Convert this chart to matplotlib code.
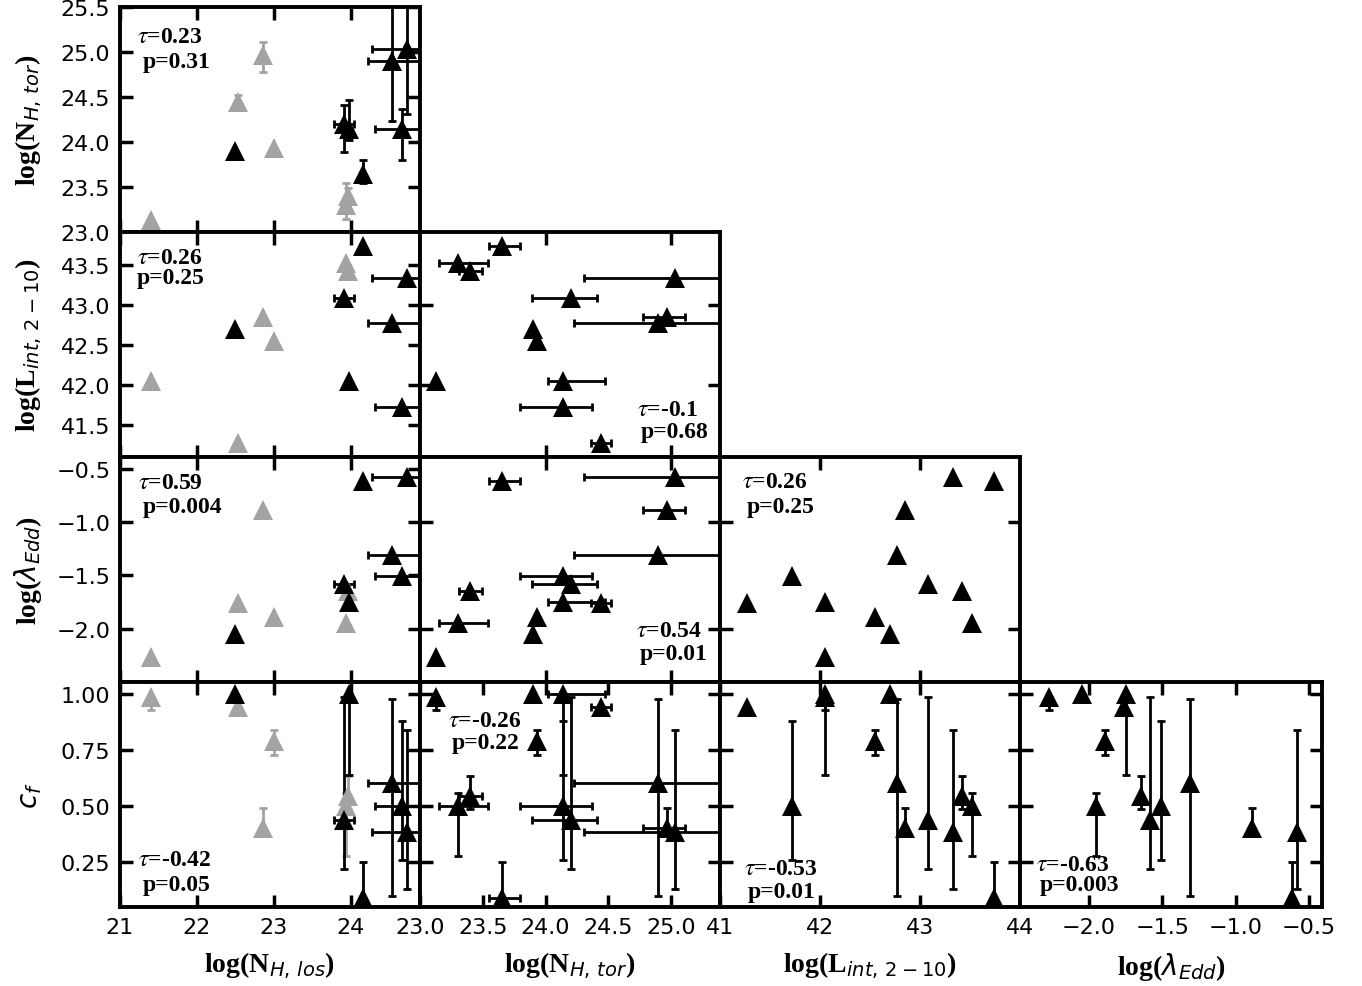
import matplotlib
matplotlib.use("Agg")
import matplotlib.pyplot as plt
import numpy as np

# 13 sources; the first six are drawn grey in the N_H,los column
grey_los = np.array([True] * 6 + [False] * 7)

nh_los = np.array([21.40, 22.53, 22.86, 23.00, 23.94, 23.97,
                   22.50, 23.91, 23.98, 24.16, 24.53, 24.73, 24.66])
nh_los_lo = np.array([0, 0, 0, 0, 0, 0, 0, 0.13, 0, 0, 0.31, 0.46, 0.34])
nh_los_hi = np.array([0, 0, 0, 0, 0, 0, 0, 0.13, 0, 0, 0.60, 0.60, 0.60])

nh_tor = np.array([23.13, 24.44, 24.97, 23.93, 23.30, 23.40,
                   23.90, 24.20, 24.14, 23.65, 24.90, 25.03, 24.14])
nh_tor_lo = np.array([0, 0.08, 0.19, 0, 0.15, 0.09, 0, 0.31, 0.12, 0.10, 0.67, 0.72, 0.34])
nh_tor_hi = np.array([0, 0.08, 0.14, 0, 0.24, 0.09, 0, 0.21, 0.33, 0.15, 1.00, 1.00, 0.23])

l_int = np.array([42.05, 41.27, 42.85, 42.55, 43.52, 43.42,
                  42.70, 43.08, 42.05, 43.74, 42.77, 43.33, 41.72])

lam_edd = np.array([-2.27, -1.76, -0.89, -1.89, -1.95, -1.645,
                    -2.05, -1.58, -1.75, -0.615, -1.31, -0.58, -1.51])

c_f = np.array([0.99, 0.945, 0.405, 0.79, 0.50, 0.546,
                1.00, 0.44, 1.00, 0.09, 0.605, 0.385, 0.50])
c_f_lo = np.array([0.06, 0, 0.03, 0.06, 0.22, 0.06, 0, 0.22, 0.36, 0, 0.505, 0.255, 0.24])
c_f_hi = np.array([0, 0, 0.085, 0.05, 0.06, 0.09, 0, 0.55, 0, 0.16, 0.375, 0.455, 0.38])

zeros = np.zeros(len(nh_los))

VARS = {
    "los": (nh_los, nh_los_lo, nh_los_hi),
    "tor": (nh_tor, nh_tor_lo, nh_tor_hi),
    "lint": (l_int, zeros, zeros),
    "edd": (lam_edd, zeros, zeros),
    "cf": (c_f, c_f_lo, c_f_hi),
}

LABELS = {
    "los": r"log(N$_{H,\,los}$)",
    "tor": r"log(N$_{H,\,tor}$)",
    "lint": r"log(L$_{int,\,2-10}$)",
    "edd": r"log($\lambda_{Edd}$)",
    "cf": r"$c_f$",
}

LIMITS = {
    "los": (21.0, 24.9),
    "tor_x": (23.0, 25.39),
    "tor_y": (23.0, 25.5),
    "lint_x": (41.0, 44.0),
    "lint_y": (41.1, 43.91),
    "edd_x": (-2.47, -0.41),
    "edd_y": (-2.50, -0.39),
    "cf": (0.05, 1.055),
}

# ticks for labelled (edge) panels and for inner panels
TICKS_EDGE = {
    "los": [21, 22, 23, 24],
    "tor_x": [23.0, 23.5, 24.0, 24.5, 25.0],
    "tor_y": [23.0, 23.5, 24.0, 24.5, 25.0, 25.5],
    "lint_x": [41, 42, 43, 44],
    "lint_y": [41.5, 42.0, 42.5, 43.0, 43.5],
    "edd_x": [-2.0, -1.5, -1.0, -0.5],
    "edd_y": [-2.0, -1.5, -1.0, -0.5],
    "cf": [0.25, 0.50, 0.75, 1.00],
}
TICKS_INNER = {
    "tor_x": [24.0, 25.0],
    "lint_x": [42, 43],
    "lint_y": [42, 43],
    "edd_y": [-2.0, -1.0],
}

# (row, col): (tau, p, x-frac, y-frac of first line, dy, indent)
STATS = {
    (0, 0): ("0.23", "0.31", 0.057, 0.870, 0.112, 0.017),
    (1, 0): ("0.26", "0.25", 0.057, 0.888, 0.090, 0.0),
    (2, 0): ("0.59", "0.004", 0.060, 0.887, 0.107, 0.017),
    (3, 0): ("-0.42", "0.05", 0.060, 0.209, 0.107, 0.017),
    (1, 1): ("-0.1", "0.68", 0.723, 0.213, 0.098, 0.013),
    (2, 1): ("0.54", "0.01", 0.720, 0.227, 0.102, 0.013),
    (3, 1): ("-0.26", "0.22", 0.093, 0.827, 0.098, 0.013),
    (2, 2): ("0.26", "0.25", 0.073, 0.893, 0.111, 0.017),
    (3, 2): ("-0.53", "0.01", 0.080, 0.169, 0.102, 0.013),
    (3, 3): ("-0.63", "0.003", 0.053, 0.191, 0.089, 0.013),
}

cols = ["los", "tor", "lint", "edd"]
rows = ["tor", "lint", "edd", "cf"]

W, H = 1362, 987
col_left = [120, 420, 720, 1020]
row_top = [8, 233, 458, 683]
pw, ph = 300, 225

BLACK = "k"
GREY = "#a3a3a3"

plt.rcParams["mathtext.fontset"] = "dejavusans"
fig = plt.figure(figsize=(W / 100, H / 100), dpi=100)


def lim_key(var, axis):
    if var in ("los", "cf"):
        return var
    return f"{var}_{axis}"


for r, yv in enumerate(rows):
    for c, xv in enumerate(cols):
        if c > r:
            continue
        ax = fig.add_axes([col_left[c] / W, 1 - (row_top[r] + ph) / H,
                           (pw + (2 if c == 3 else 0)) / W, ph / H])
        x, xlo, xhi = VARS[xv]
        y, ylo, yhi = VARS[yv]
        for i in range(len(x)):
            col = GREY if (c == 0 and grey_los[i]) else BLACK
            xerr = [[xlo[i]], [xhi[i]]] if (xlo[i] or xhi[i]) else None
            yerr = [[ylo[i]], [yhi[i]]] if (ylo[i] or yhi[i]) else None
            if xerr is None and yerr is None:
                continue
            ax.errorbar([x[i]], [y[i]], xerr=xerr, yerr=yerr, fmt="none",
                        ecolor=col, elinewidth=2.0, capsize=3.0, capthick=2.0,
                        zorder=2)
        order = np.argsort(~grey_los) if c == 0 else np.arange(len(x))
        for i in order:
            col = GREY if (c == 0 and grey_los[i]) else BLACK
            ax.plot(x[i], y[i], marker="^", ms=14, color=col, mew=0,
                    linestyle="none", zorder=3)

        kx, ky = lim_key(xv, "x"), lim_key(yv, "y")
        ax.set_xlim(*LIMITS[kx])
        ax.set_ylim(*LIMITS[ky])
        bottom = r == 3
        left = c == 0
        ax.set_xticks(TICKS_EDGE[kx] if (bottom or kx not in TICKS_INNER) else TICKS_INNER[kx])
        ax.set_yticks(TICKS_EDGE[ky] if (left or ky not in TICKS_INNER) else TICKS_INNER[ky])
        ax.tick_params(direction="in", length=9, width=2.5, top=True, right=True,
                       labelsize=16, pad=7,
                       labelbottom=bottom, labelleft=left)
        for sp in ax.spines.values():
            sp.set_linewidth(2.8)

        if left:
            if yv == "cf":
                ax.set_ylabel(LABELS[yv], fontsize=20)
            else:
                ax.set_ylabel(LABELS[yv], fontsize=20, fontweight="bold",
                              family="Liberation Serif")
            ax.yaxis.set_label_coords(-0.255, 0.5)
        if bottom:
            ax.set_xlabel(LABELS[xv], fontsize=20, fontweight="bold",
                          family="Liberation Serif")
            ax.xaxis.set_label_coords(0.5, -0.19)

        if (r, c) in STATS:
            tau, p, fx, fy, dy, ind = STATS[(r, c)]
            ax.text(fx, fy, r"$\tau$=" + tau, transform=ax.transAxes,
                    fontsize=17, fontweight="bold", family="Liberation Serif",
                    math_fontfamily="stix", va="center", ha="left", zorder=5)
            ax.text(fx + ind, fy - dy, "p=" + p, transform=ax.transAxes,
                    fontsize=17, fontweight="bold", family="Liberation Serif",
                    va="center", ha="left", zorder=5)

fig.savefig("out.png", dpi=100)
